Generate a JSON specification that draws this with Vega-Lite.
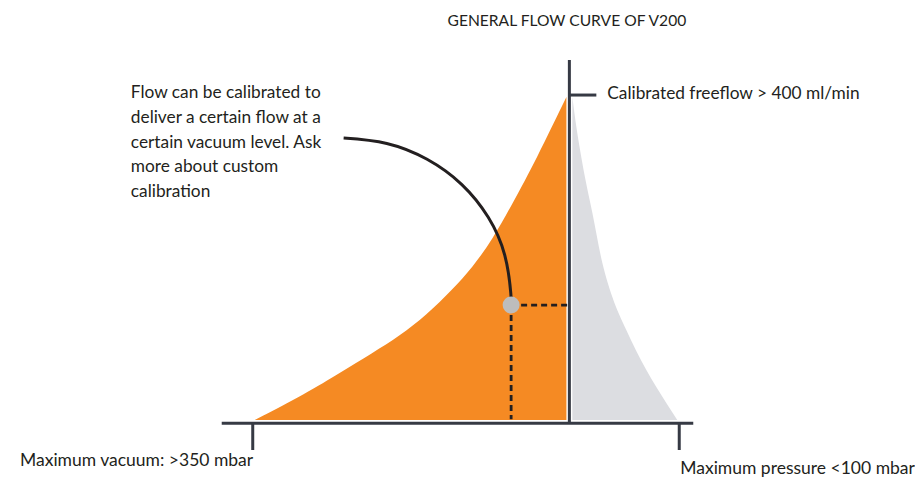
{
  "$schema": "https://vega.github.io/schema/vega-lite/v6.json",
  "width": 915,
  "height": 481,
  "autosize": {"type": "fit", "contains": "padding"},
  "padding": 0,
  "background": "white",
  "config": {"view": {"stroke": null}},
  "datasets": {
    "vacuum": [
      {"x": -350, "y": 4},
      {"x": -292.2, "y": 37.1},
      {"x": -255.6, "y": 61.7},
      {"x": -218.9, "y": 86.2},
      {"x": -188.9, "y": 107.0},
      {"x": -158.9, "y": 132.8},
      {"x": -130, "y": 164.2},
      {"x": -107.8, "y": 191.2},
      {"x": -85.6, "y": 225.2},
      {"x": -63.3, "y": 269.4},
      {"x": -36.7, "y": 323.9},
      {"x": -3.3, "y": 400}
    ],
    "pressure": [
      {"x": 3.3, "y": 400},
      {"x": 5.6, "y": 380.4},
      {"x": 14.4, "y": 319.1},
      {"x": 25.6, "y": 257.8},
      {"x": 36.7, "y": 196.5},
      {"x": 47.8, "y": 154.8},
      {"x": 63.3, "y": 114.4},
      {"x": 85.6, "y": 65.4},
      {"x": 107.8, "y": 24.9},
      {"x": 120, "y": 4}
    ],
    "arc": [
      {"x": -251.1, "y": 349.7},
      {"x": -203.1, "y": 343.1},
      {"x": -158.3, "y": 323.7},
      {"x": -119.9, "y": 293.0},
      {"x": -90.4, "y": 252.9},
      {"x": -71.9, "y": 206.2},
      {"x": -65.2, "y": 160},
      {"x": -64.8, "y": 145}
    ],
    "axes": [
      {"x": -386.7, "x2": 137.8, "y": 0, "y2": 0},
      {"x": 0, "x2": 0, "y": 0, "y2": 445.3},
      {"x": 0, "x2": 30, "y": 402.4, "y2": 402.4},
      {"x": -352.2, "x2": -352.2, "y": 0, "y2": -32.7},
      {"x": 122.2, "x2": 122.2, "y": 0, "y2": -32.7}
    ],
    "guides": [
      {"x": -64.8, "x2": -64.8, "y": 145, "y2": 5},
      {"x": -64.8, "x2": -2.2, "y": 145, "y2": 145}
    ],
    "setpoint": [{"x": -64.8, "y": 145}],
    "title": [{"x": -2.8, "y": 493.1, "label": "GENERAL FLOW CURVE OF V200"}],
    "note": [
      {"x": -487.8, "y": 404.5, "label": "Flow can be calibrated to"},
      {"x": -487.8, "y": 374.5, "label": "deliver a certain flow at a"},
      {"x": -487.8, "y": 344.0, "label": "certain vacuum level. Ask"},
      {"x": -487.8, "y": 314.0, "label": "more about custom"},
      {"x": -487.8, "y": 284.0, "label": "calibration"}
    ],
    "labels": [
      {"x": 42.2, "y": 403.5, "label": "Calibrated freeflow > 400 ml/min"}
    ],
    "ends": [
      {"x": -611.1, "y": -46.2, "label": "Maximum vacuum: >350 mbar"},
      {"x": 123.3, "y": -56, "label": "Maximum pressure <100 mbar"}
    ]
  },
  "encoding": {
    "x": {"field": "x", "type": "quantitative", "axis": null, "scale": {"domain": [-633.33, 383.33], "nice": false, "zero": false}},
    "y": {"field": "y", "type": "quantitative", "axis": null, "scale": {"domain": [-70.7, 518.9], "nice": false, "zero": false}}
  },
  "layer": [
    {
      "data": {"name": "pressure"},
      "mark": {"type": "area", "color": "#DCDDE1", "interpolate": "monotone"},
      "encoding": {"y2": {"datum": 4}}
    },
    {
      "data": {"name": "vacuum"},
      "mark": {"type": "area", "color": "#F58A23", "interpolate": "basis"},
      "encoding": {"y2": {"datum": 4}}
    },
    {
      "data": {"name": "guides"},
      "mark": {"type": "rule", "color": "#231F20", "strokeWidth": 2.8, "strokeDash": [6, 4]},
      "encoding": {"x2": {"field": "x2"}, "y2": {"field": "y2"}}
    },
    {
      "data": {"name": "arc"},
      "mark": {"type": "line", "color": "#231F20", "strokeWidth": 3, "interpolate": "natural"},
      "encoding": {}
    },
    {
      "data": {"name": "axes"},
      "mark": {"type": "rule", "color": "#363A44", "strokeWidth": 3},
      "encoding": {"x2": {"field": "x2"}, "y2": {"field": "y2"}}
    },
    {
      "data": {"name": "setpoint"},
      "mark": {"type": "point", "filled": true, "color": "#BDBDBD", "opacity": 1, "size": 290, "strokeWidth": 0}
    },
    {
      "data": {"name": "title"},
      "mark": {"type": "text", "align": "center", "baseline": "middle", "font": "Lato", "fontSize": 15.6, "color": "#231F20"},
      "encoding": {"text": {"field": "label"}}
    },
    {
      "data": {"name": "note"},
      "mark": {"type": "text", "align": "left", "baseline": "middle", "font": "Lato", "fontSize": 17.3, "color": "#231F20"},
      "encoding": {"text": {"field": "label"}}
    },
    {
      "data": {"name": "labels"},
      "mark": {"type": "text", "align": "left", "baseline": "middle", "font": "Lato", "fontSize": 17.3, "color": "#231F20"},
      "encoding": {"text": {"field": "label"}}
    },
    {
      "data": {"name": "ends"},
      "mark": {"type": "text", "align": "left", "baseline": "middle", "font": "Lato", "fontSize": 17.5, "color": "#231F20"},
      "encoding": {"text": {"field": "label"}}
    }
  ]
}
